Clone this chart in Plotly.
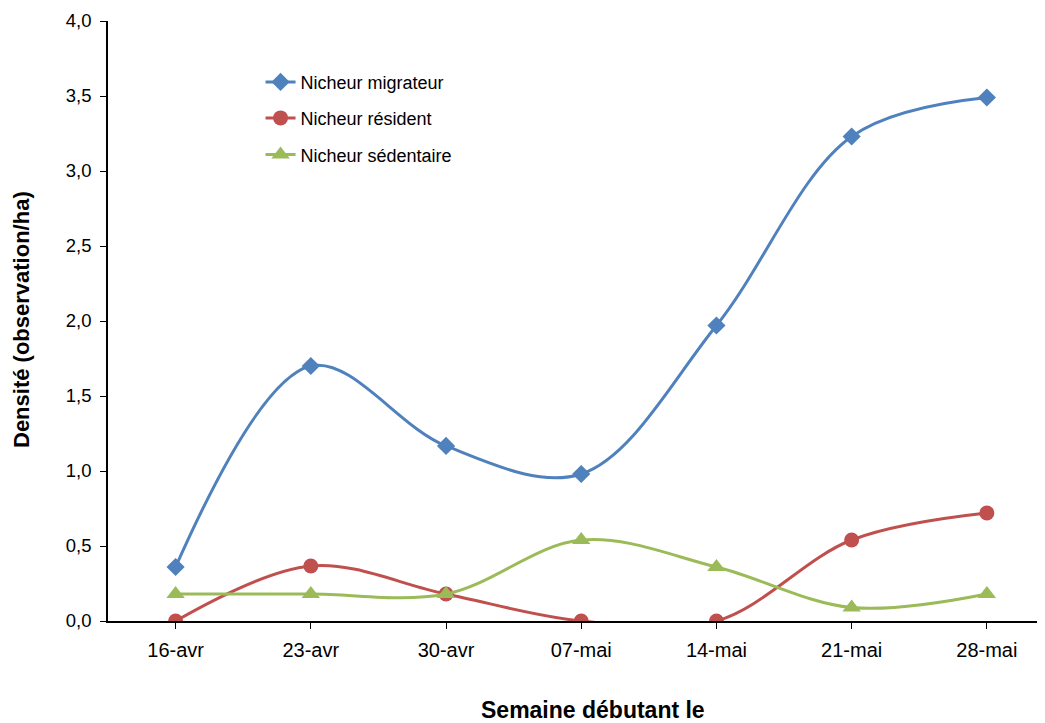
import plotly.graph_objects as go

categories = ["16-avr", "23-avr", "30-avr", "07-mai", "14-mai", "21-mai", "28-mai"]
migrateur = [0.36, 1.70, 1.167, 0.98, 1.97, 3.23, 3.49]
resident = [0.0, 0.367, 0.18, 0.0, 0.0, 0.54, 0.72]
sedentaire = [0.18, 0.18, 0.18, 0.54, 0.36, 0.09, 0.18]

series = [
    ("Nicheur migrateur", migrateur, "#4F81BD", "diamond", 14, "legend"),
    ("Nicheur résident", resident, "#C0504D", "circle", 15, "legend2"),
    ("Nicheur sédentaire", sedentaire, "#9BBB59", "triangle-up", 16, "legend3"),
]

FONT = "Liberation Sans, Arial, sans-serif"

fig = go.Figure()
for name, vals, color, sym, sz, lg in series:
    fig.add_trace(go.Scatter(
        x=list(range(len(categories))), y=vals, name=name,
        mode="lines+markers",
        line=dict(color=color, width=3, shape="spline", smoothing=1),
        marker=dict(color=color, symbol=sym, size=sz),
        legend=lg,
    ))

leg_common = dict(xanchor="left", yanchor="middle", x=0.1628,
                  bgcolor="rgba(0,0,0,0)", font=dict(size=18, family=FONT, color="black"))

# page body has an 8px margin, so the figure is offset by 8px on screen
fig.update_layout(
    width=1037, height=715,
    paper_bgcolor="white", plot_bgcolor="white",
    margin=dict(l=100, r=0, t=13, b=102, autoexpand=False),
    separators=", ",
    font=dict(family=FONT, size=19, color="black"),
    showlegend=True,
    legend=dict(y=0.898, **leg_common),
    legend2=dict(y=0.838, **leg_common),
    legend3=dict(y=0.777, **leg_common),
    annotations=[
        dict(text="<b>Semaine débutant le</b>", xref="paper", yref="paper",
             x=(593 - 108) / 937, y=-(710 - 621) / 600, xanchor="center", yanchor="middle",
             showarrow=False, font=dict(size=23, family=FONT, color="black")),
        dict(text="<b>Densité (observation/ha)</b>", xref="paper", yref="paper",
             x=-(108 - 21) / 937, y=(621 - 320) / 600, xanchor="center", yanchor="middle",
             textangle=-90, showarrow=False, font=dict(size=22, family=FONT, color="black")),
    ],
)
fig.update_xaxes(
    tickmode="array", tickvals=list(range(len(categories))), ticktext=categories,
    range=[-0.5, 6.43], showgrid=False, zeroline=False, automargin=False,
    showline=True, linecolor="black", linewidth=1.5,
    ticks="outside", ticklen=6, tickcolor="black", ticklabelstandoff=4,
    tickfont=dict(size=20),
)
fig.update_yaxes(
    range=[0, 4.0], dtick=0.5, tickformat=".1f", showgrid=False, zeroline=False,
    automargin=False,
    showline=True, linecolor="black", linewidth=1.5,
    ticks="outside", ticklen=6, tickcolor="black", ticklabelstandoff=5,
    tickfont=dict(size=18.5),
)

fig.write_html("out.html")
